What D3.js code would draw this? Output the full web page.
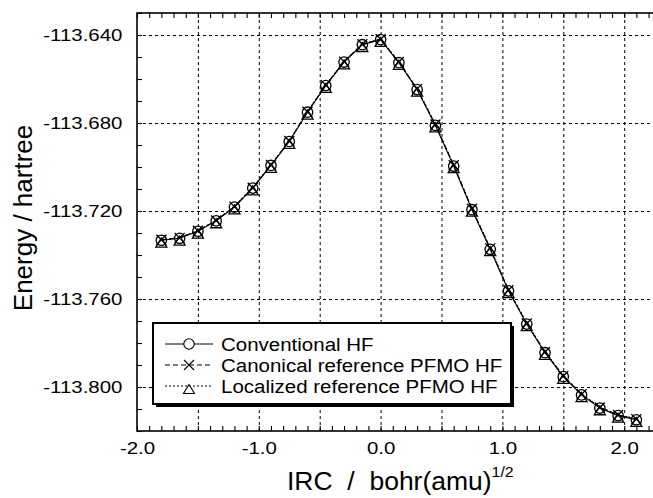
<!DOCTYPE html>
<html>
<head>
<meta charset="utf-8">
<script src="https://cdn.jsdelivr.net/npm/d3@7"></script>
<style>
  html, body { margin: 0; padding: 0; background: #ffffff; }
  svg { display: block; font-family: "Liberation Sans", Arial, Helvetica, sans-serif; }
</style>
</head>
<body>
<svg id="chart" width="653" height="498"></svg>
<script>
// IRC coordinate, bohr(amu)^1/2
const ircValues = [-1.8, -1.65, -1.5, -1.35, -1.2, -1.05, -0.9, -0.75, -0.6, -0.45, -0.3, -0.15, 0,
  0.15, 0.3, 0.45, 0.6, 0.75, 0.9, 1.05, 1.2, 1.35, 1.5, 1.65, 1.8, 1.95, 2.1];
// energies, hartree
const conventionalHF = [-113.7333, -113.7324, -113.7292, -113.7245, -113.7182, -113.7096, -113.6993, -113.6884,
  -113.6751, -113.6630, -113.6523, -113.6444, -113.6421, -113.6526, -113.6648, -113.6811, -113.6996, -113.7194,
  -113.7374, -113.7563, -113.7714, -113.7844, -113.7953, -113.8036, -113.8096, -113.8130, -113.8149];
const canonicalPFMO = [-113.7331, -113.7322, -113.7290, -113.7243, -113.7180, -113.7094, -113.6991, -113.6882,
  -113.6749, -113.6628, -113.6521, -113.6442, -113.6419, -113.6523, -113.6645, -113.6807, -113.6992, -113.7190,
  -113.7370, -113.7560, -113.7711, -113.7841, -113.7950, -113.8033, -113.8093, -113.8127, -113.8146];
const localizedPFMO = [-113.7330, -113.7321, -113.7289, -113.7242, -113.7179, -113.7093, -113.6990, -113.6881,
  -113.6748, -113.6627, -113.6520, -113.6441, -113.6418, -113.6522, -113.6644, -113.6806, -113.6991, -113.7189,
  -113.7369, -113.7559, -113.7710, -113.7840, -113.7949, -113.8032, -113.8092, -113.8126, -113.8145];
const seriesNames = ["Conventional HF", "Canonical reference PFMO HF", "Localized reference PFMO HF"];

const xTickLabels = [-2, -1, 0, 1, 2];
const xGridValues = [-1.5, -1, -0.5, 0, 0.5, 1, 1.5, 2];
const yTickLabels = [-113.64, -113.68, -113.72, -113.76, -113.80];

const fmt = d3.formatLocale({ decimal: ".", thousands: ",", grouping: [3], currency: ["", ""], minus: "-" });

const svg = d3.select("#chart");
const plotLeft = 137, plotTop = 13, plotBottom = 431;

const x = d3.scaleLinear().domain([-2, 2.3]).range([plotLeft, plotLeft + 121.8 * 4.3]);
const y = d3.scaleLinear().domain([-113.82, -113.63]).range([plotBottom, plotTop]);

// grid, drawn as long axis ticks
function gridStyle(g) {
  g.select(".domain").remove();
  g.selectAll(".tick line")
    .attr("stroke", "#000")
    .attr("stroke-width", 1)
    .attr("stroke-dasharray", "3,3");
}
svg.append("g")
  .attr("transform", `translate(0,${plotBottom})`)
  .call(d3.axisBottom(x).tickValues(xGridValues).tickSize(-(plotBottom - plotTop)).tickFormat(""))
  .call(gridStyle);
svg.append("g")
  .attr("transform", `translate(${plotLeft},0)`)
  .call(d3.axisLeft(y).tickValues(yTickLabels).tickSize(-(653 - plotLeft)).tickFormat(""))
  .call(gridStyle);

// minor ticks (inside)
const xMinor = d3.range(-20, 24).map(i => i / 10);
const yMinor = d3.range(-11382, -11362, 1).map(i => i / 100);

function restyle(g) {
  g.select(".domain").remove();
  g.selectAll(".tick line").attr("stroke", "#000").attr("stroke-width", 1.1);
}
svg.append("g").attr("transform", `translate(0,${plotBottom})`)
  .call(d3.axisBottom(x).tickValues(xMinor).tickSize(-5).tickFormat(""))
  .call(restyle);
svg.append("g").attr("transform", `translate(0,${plotTop})`)
  .call(d3.axisTop(x).tickValues(xMinor).tickSize(-5).tickFormat(""))
  .call(restyle);
svg.append("g").attr("transform", `translate(${plotLeft},0)`)
  .call(d3.axisLeft(y).tickValues(yMinor).tickSize(-5).tickFormat(""))
  .call(restyle);

// tick labels via axes, glyphs stretched a bit horizontally like the original
const g_xlab = svg.append("g").attr("transform", `translate(0,${plotBottom})`)
  .call(d3.axisBottom(x).tickValues(xTickLabels).tickSize(0).tickPadding(10).tickFormat(fmt.format(".1f")));
g_xlab.select(".domain").remove();
g_xlab.selectAll("text")
  .attr("font-size", 16.5).attr("fill", "#000")
  .attr("dy", null).attr("y", null)
  .attr("transform", "translate(0,22.5) scale(1.24,1)");

const g_ylab = svg.append("g").attr("transform", `translate(${plotLeft},0)`)
  .call(d3.axisLeft(y).tickValues(yTickLabels).tickSize(0).tickFormat(fmt.format(".3f")));
g_ylab.select(".domain").remove();
g_ylab.selectAll("text")
  .attr("font-size", 16.5).attr("fill", "#000")
  .attr("x", null).attr("dy", null)
  .attr("transform", "translate(-14.5,5.8) scale(1.24,1)");
g_xlab.attr("font-family", null);
g_ylab.attr("font-family", null);

// frame
svg.append("rect")
  .attr("x", plotLeft).attr("y", plotTop)
  .attr("width", x.range()[1] - plotLeft).attr("height", plotBottom - plotTop)
  .attr("fill", "none").attr("stroke", "#000").attr("stroke-width", 1.6);

// series
const seriesValues = [conventionalHF, canonicalPFMO, localizedPFMO];
const dashes = [null, "5,3", "2,2"];
const markerPaths = [
  null,
  "M-5,-5L5,5M-5,5L5,-5",
  "M0,-1.5L5.5,7.5L-5.5,7.5Z"
];
const lineGen = d3.line().x(d => x(d[0])).y(d => y(d[1]));

seriesValues.forEach((vals, i) => {
  const pts = ircValues.map((v, k) => [v, vals[k]]);
  svg.append("path")
    .datum(pts)
    .attr("d", lineGen)
    .attr("fill", "none")
    .attr("stroke", "#000")
    .attr("stroke-width", 1.1)
    .attr("stroke-dasharray", dashes[i]);
});

function drawMarker(sel, i) {
  if (i === 0) {
    sel.append("circle").attr("r", 5.2).attr("fill", "none").attr("stroke", "#000").attr("stroke-width", 1.3);
  } else {
    sel.append("path").attr("d", markerPaths[i]).attr("fill", "none").attr("stroke", "#000").attr("stroke-width", 1.3);
  }
}

seriesValues.forEach((vals, i) => {
  const pts = ircValues.map((v, k) => [v, vals[k]]);
  svg.append("g").selectAll("g").data(pts).join("g")
    .attr("transform", d => `translate(${x(d[0])},${y(d[1])})`)
    .each(function () { drawMarker(d3.select(this), i); });
});

// legend
const g_legend = svg.append("g").attr("transform", "translate(153,323)");
g_legend.append("rect")
  .attr("x", 3).attr("y", 3).attr("width", 358).attr("height", 81)
  .attr("fill", "#000");
g_legend.append("rect")
  .attr("x", 0).attr("y", 0).attr("width", 358).attr("height", 81)
  .attr("fill", "#fff").attr("stroke", "#000").attr("stroke-width", 2);

seriesNames.forEach((name, i) => {
  const row = g_legend.append("g").attr("transform", `translate(0,${21 + i * 21})`);
  row.append("line")
    .attr("x1", 12).attr("x2", 60).attr("y1", 0).attr("y2", 0)
    .attr("stroke", "#000").attr("stroke-width", 1)
    .attr("stroke-dasharray", dashes[i]);
  const mk = row.append("g").attr("transform", "translate(36,0)");
  drawMarker(mk, i);
  mk.selectAll("circle, path").attr("stroke-width", 1.1);
  if (i !== 1) mk.selectAll("circle, path").attr("fill", "#fff");
  row.append("text")
    .attr("transform", "translate(68,7) scale(1.09,1)")
    .attr("font-size", 18.8)
    .attr("fill", "#000")
    .text(name);
});

// axis titles
const xTitle = svg.append("text")
  .attr("transform", "translate(287,490) scale(1.06,1)")
  .attr("font-size", 25)
  .attr("fill", "#000")
  .style("white-space", "pre");
xTitle.append("tspan").text("IRC  /  bohr(amu)");
xTitle.append("tspan").attr("font-size", 15).attr("dy", -13).text("1/2");

svg.append("text")
  .attr("transform", "translate(32,218) rotate(-90) scale(1.04,1)")
  .attr("text-anchor", "middle")
  .attr("font-size", 25)
  .attr("fill", "#000")
  .text("Energy / hartree");
</script>
</body>
</html>
